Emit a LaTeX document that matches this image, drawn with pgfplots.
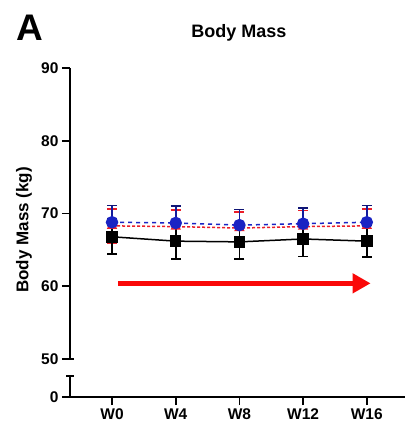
\documentclass[border=0pt]{standalone}
\usepackage{fontspec}
\setmainfont{Liberation Sans}
\usepackage{pgfplots}
\usepackage{pgfplotstable}
\pgfplotsset{compat=1.18}
\usetikzlibrary{arrows.meta}

\definecolor{grpblue}{RGB}{25,35,195}
\definecolor{grpred}{RGB}{235,30,40}
\definecolor{arrred}{RGB}{250,8,8}

% week index, mean, sd
\pgfplotstableread{
x y e
0 68.3 2.3
1 68.2 2.3
2 68.0 2.2
3 68.2 2.2
4 68.3 2.3
}\redgrp
\pgfplotstableread{
x y e
0 68.8 2.3
1 68.7 2.3
2 68.4 2.15
3 68.6 2.2
4 68.8 2.3
}\bluegrp
\pgfplotstableread{
x y e
0 66.8 2.4
1 66.2 2.4
2 66.1 2.3
3 66.5 2.4
4 66.2 2.2
}\blackgrp

\begin{document}
\begin{tikzpicture}
\useasboundingbox (0pt,0pt) rectangle (406pt,-426pt);
\pgfplotsset{
  every axis/.append style={
    scale only axis, width=335pt, xmin=-0.66, xmax=4.6,
    axis line style={line width=1.8pt,-},
    tick style={line width=1.8pt,black},
    major tick length=8pt, tick align=outside,
    tick label style={font=\bfseries\fontsize{15.5}{15.5}\selectfont},
    /pgf/number format/assume math mode=true,
    clip=false,
  },
}
% upper segment of the broken y axis
\begin{axis}[at={(70pt,-359pt)}, anchor=south west, height=291pt,
  axis x line=none, axis y line*=left,
  ymin=50, ymax=90, ytick={50,60,...,90}]
\addplot[grpred, densely dashed, line width=1.5pt, mark=triangle*, mark size=4.5pt,
  mark options={solid},
  error bars/.cd, y dir=both, y explicit,
  error bar style={line width=1.8pt, solid, grpred},
  error mark options={rotate=90, line width=1.8pt, mark size=5pt, grpred}]
  table[x=x, y=y, y error=e] {\redgrp};
\addplot[grpblue, dash pattern=on 4pt off 4pt, line width=1.5pt, mark=*, mark size=5.5pt,
  mark options={solid},
  error bars/.cd, y dir=both, y explicit,
  error bar style={line width=1.8pt, solid, grpblue!80!black},
  error mark options={rotate=90, line width=1.8pt, mark size=5pt, grpblue!60!black}]
  table[x=x, y=y, y error=e] {\bluegrp};
\addplot[black, line width=1.5pt, mark=square*, mark size=5pt,
  error bars/.cd, y dir=both, y explicit,
  error bar style={line width=1.8pt, black},
  error mark options={rotate=90, line width=1.8pt, mark size=5pt, black}]
  table[x=x, y=y, y error=e] {\blackgrp};
\draw[line width=1.8pt] ([xshift=-4pt]rel axis cs:0,0) -- ([xshift=4pt]rel axis cs:0,0);
\draw[arrred, line width=5pt, -{Triangle[length=18pt,width=19pt]}]
  (axis cs:0.09,60.4) -- (axis cs:4.06,60.4);
\end{axis}
% lower segment
\begin{axis}[at={(70pt,-397pt)}, anchor=south west, height=21pt,
  axis x line*=bottom, axis y line*=left,
  ymin=0, ymax=1, ytick={0},
  xtick={0,...,4}, xticklabels={W0,W4,W8,W12,W16}]
\draw[line width=1.8pt] ([xshift=-4pt]rel axis cs:0,1) -- ([xshift=4pt]rel axis cs:0,1);
\end{axis}
\node[font=\bfseries\fontsize{37}{37}\selectfont, anchor=base west] at (13pt,-40pt) {A};
\node[font=\bfseries\fontsize{18}{18}\selectfont] at (239pt,-33pt) {Body Mass};
\node[font=\bfseries\fontsize{17}{17}\selectfont, rotate=90] at (24pt,-230pt) {Body Mass (kg)};
\end{tikzpicture}
\end{document}
